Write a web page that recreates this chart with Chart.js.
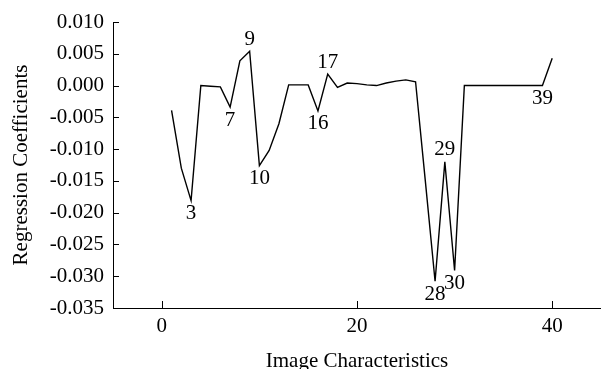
<!DOCTYPE html>
<html>
<head>
<meta charset="utf-8">
<script src="https://cdn.jsdelivr.net/npm/chart.js@4"></script>
<style>
  body { margin: 0; background: #fff; }
  canvas { display: block; }
</style>
</head>
<body>
<canvas id="coef-chart" width="601" height="369"></canvas>
<script>
const characteristics = [1, 2, 3, 4, 5, 6, 7, 8, 9, 10,
    11, 12, 13, 14, 15, 16, 17, 18, 19, 20,
    21, 22, 23, 24, 25, 26, 27, 28, 29, 30,
    31, 32, 33, 34, 35, 36, 37, 38, 39, 40];
const coefficients = [-0.0039, -0.0130, -0.0181, 0.0000, -0.0001, -0.0002, -0.0034, 0.0039, 0.0054, -0.0126,
    -0.0102, -0.0060, 0.0001, 0.0001, 0.0001, -0.0040, 0.0018, -0.0003, 0.0004, 0.0003,
    0.0001, 0.0000, 0.0004, 0.0007, 0.0009, 0.0006, -0.0150, -0.0308, -0.0120, -0.0291,
    0.0000, 0.0000, 0.0000, 0.0000, 0.0000, 0.0000, 0.0000, 0.0000, 0.0000, 0.0043];
const xTicks = [0, 20, 40];
const labeledPoints = [3, 7, 9, 10, 16, 17, 28, 29, 30, 39];
const labelsAbove = [9, 17, 29];

const serif = 'Liberation Serif';

// inside tick marks + numbers next to the marked points
const annotate = {
    id: 'annotate',
    afterDatasetsDraw(chart) {
        const { ctx, chartArea, scales: { x, y } } = chart;
        ctx.save();
        ctx.strokeStyle = '#000';
        ctx.lineWidth = 1;
        ctx.beginPath();
        y.ticks.forEach(t => {
            const py = Math.round(y.getPixelForValue(t.value)) + 0.5;
            ctx.moveTo(chartArea.left, py);
            ctx.lineTo(chartArea.left + 6, py);
        });
        x.ticks.forEach(t => {
            const px = Math.round(x.getPixelForValue(t.value)) + 0.5;
            ctx.moveTo(px, chartArea.bottom);
            ctx.lineTo(px, chartArea.bottom - 7);
        });
        ctx.stroke();

        ctx.fillStyle = '#000';
        ctx.font = `21px "${serif}"`;
        ctx.textAlign = 'center';
        ctx.textBaseline = 'middle';
        labeledPoints.forEach(n => {
            const i = characteristics.indexOf(n);
            const px = x.getPixelForValue(n);
            const py = y.getPixelForValue(coefficients[i]);
            const dy = labelsAbove.includes(n) ? -12 : 13;
            ctx.fillText(String(n), px, py + dy);
        });
        ctx.restore();
    }
};

new Chart(document.getElementById('coef-chart'), {
    type: 'line',
    data: {
        datasets: [{
            data: characteristics.map((c, i) => ({ x: c, y: coefficients[i] })),
            borderColor: '#000',
            borderWidth: 1.4,
            pointRadius: 0,
            tension: 0,
            fill: false
        }]
    },
    options: {
        responsive: false,
        animation: false,
        layout: { padding: { top: 22, right: 0, bottom: 0, left: 0 } },
        plugins: {
            legend: { display: false },
            tooltip: { enabled: false }
        },
        scales: {
            x: {
                type: 'linear',
                min: -5,
                max: 45,
                afterBuildTicks: scale => { scale.ticks = xTicks.map(v => ({ value: v })); },
                afterFit: scale => { scale.height = 61; },
                grid: { display: false, drawTicks: false },
                border: { display: true, color: '#000', width: 1 },
                ticks: {
                    color: '#000',
                    padding: 6,
                    maxRotation: 0,
                    font: { family: serif, size: 21 }
                },
                title: {
                    display: true,
                    text: 'Image Characteristics',
                    color: '#000',
                    padding: { top: 0, bottom: -5 },
                    font: { family: serif, size: 21 }
                }
            },
            y: {
                min: -0.035,
                max: 0.010,
                afterFit: scale => { scale.width = 113; },
                grid: { display: false, drawTicks: false },
                border: { display: true, color: '#000', width: 1 },
                ticks: {
                    stepSize: 0.005,
                    color: '#000',
                    padding: 9,
                    font: { family: serif, size: 21 },
                    callback: v => v.toFixed(3)
                },
                title: {
                    display: true,
                    text: 'Regression Coefficients',
                    color: '#000',
                    padding: { top: 9, bottom: 0 },
                    font: { family: serif, size: 21 }
                }
            }
        }
    },
    plugins: [annotate]
});
</script>
</body>
</html>
